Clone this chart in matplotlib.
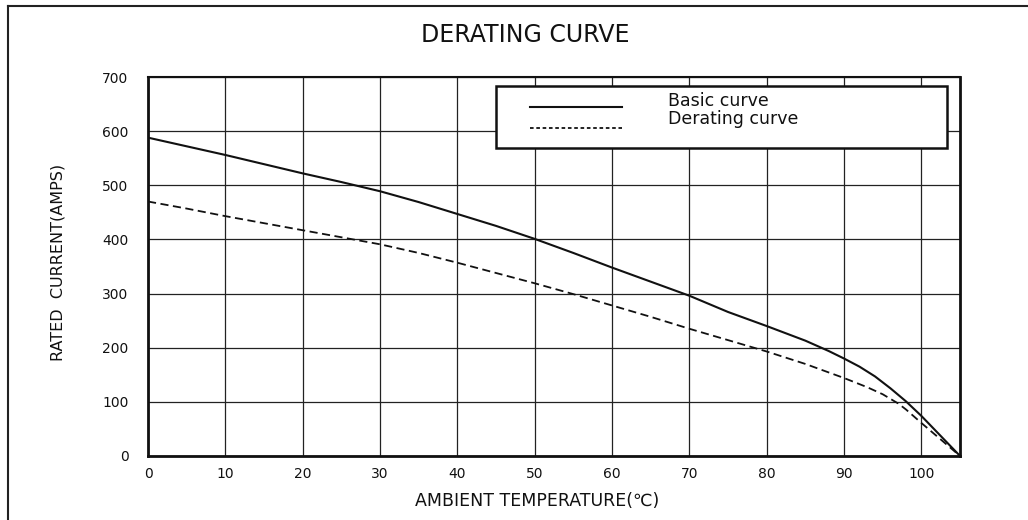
import matplotlib
matplotlib.use("Agg")
import matplotlib.pyplot as plt
from matplotlib.lines import Line2D
from matplotlib.patches import Rectangle

plt.rcParams['font.family'] = ['DejaVu Sans', 'Noto Sans CJK SC']

# ---- data ----
basic_temp = [0, 5, 10, 15, 20, 25, 30, 35, 40, 45, 50, 55, 60, 65, 70, 75,
              80, 85, 88, 90, 92, 94, 96, 98, 100, 105]
basic_current = [588, 572, 556, 539, 522, 506, 489, 469, 447, 425, 401, 375,
                 348, 322, 296, 266, 240, 213, 194, 180, 165, 147, 125, 101, 74, 0]

derating_temp = [0, 5, 10, 15, 20, 25, 30, 35, 40, 45, 50, 55, 60, 65, 70, 75,
                 80, 85, 90, 93, 95, 97, 98, 100, 105]
derating_current = [470, 457, 443, 430, 417, 404, 391, 375, 357, 338, 319, 299,
                    278, 257, 235, 214, 193, 170, 144, 127, 114, 97, 86, 61, 0]

x_ticks = [0, 10, 20, 30, 40, 50, 60, 70, 80, 90, 100]
y_ticks = [0, 100, 200, 300, 400, 500, 600, 700]
series_labels = ["Basic curve", "Derating curve"]
title = "DERATING CURVE"
x_label = "AMBIENT TEMPERATURE(\u2103)"
y_label = "RATED  CURRENT(AMPS)"

# ---- figure ----
fig = plt.figure(figsize=(10.28, 5.20), dpi=100)
ax = fig.add_axes([0.144, 0.1231, 0.7899, 0.7288])

ax.set_xlim(0, 105)
ax.set_ylim(0, 700)
ax.set_xticks(x_ticks)
ax.set_yticks(y_ticks)
ax.tick_params(axis='both', length=0, labelsize=10, colors='#111111')
ax.tick_params(axis='y', pad=14)
ax.tick_params(axis='x', pad=8)
ax.grid(True, color='#222222', linewidth=0.9)
ax.set_axisbelow(True)
for side in ['left', 'bottom', 'right']:
    ax.spines[side].set_linewidth(2.0)
ax.spines['top'].set_linewidth(1.5)
for s in ax.spines.values():
    s.set_color('#111111')
    s.set_zorder(5)

ax.plot(basic_temp, basic_current, color='#111111', linewidth=1.5,
        solid_joinstyle='round', zorder=3)
ax.plot(derating_temp, derating_current, color='#111111', linewidth=1.3,
        linestyle=(0, (4.5, 2.5)), zorder=3)

ax.set_xlabel(x_label, fontsize=12.5, color='#111111')
ax.xaxis.set_label_coords(0.479, -0.119)
ax.xaxis.label.set_va('center')
ax.set_ylabel(y_label, fontsize=11.5, color='#111111')
ax.yaxis.set_label_coords(-0.111, 0.51)
ax.yaxis.label.set_va('center')

fig.text(0.511, 0.933, title, fontsize=17, ha='center', va='center',
         color='#111111')

# ---- legend box (drawn manually to match placement) ----
ax.add_patch(Rectangle((0.4286, 0.8127), 0.5554, 0.1636, transform=ax.transAxes,
                       facecolor='white', edgecolor='#111111', linewidth=1.8,
                       zorder=6))
ax.add_line(Line2D([0.4704, 0.5837], [0.9208, 0.9208], transform=ax.transAxes,
                   color='#111111', linewidth=1.5, zorder=7))
ax.add_line(Line2D([0.4704, 0.5837], [0.8654, 0.8654], transform=ax.transAxes,
                   color='#111111', linewidth=1.3, linestyle=(0, (2, 1.5)),
                   zorder=7))
ax.text(0.6404, 0.9367, series_labels[0], transform=ax.transAxes, fontsize=12.5,
        va='center', ha='left', color='#111111', zorder=8)
ax.text(0.6404, 0.8905, series_labels[1], transform=ax.transAxes, fontsize=12.5,
        va='center', ha='left', color='#111111', zorder=8)

# ---- outer frame lines ----
fig.add_artist(Line2D([0.0078, 0.0078], [0.0, 0.9885], transform=fig.transFigure,
                      color='#222222', linewidth=1.5))
fig.add_artist(Line2D([0.0078, 1.0], [0.9885, 0.9885], transform=fig.transFigure,
                      color='#222222', linewidth=1.5))

fig.savefig("out.png", dpi=100)
